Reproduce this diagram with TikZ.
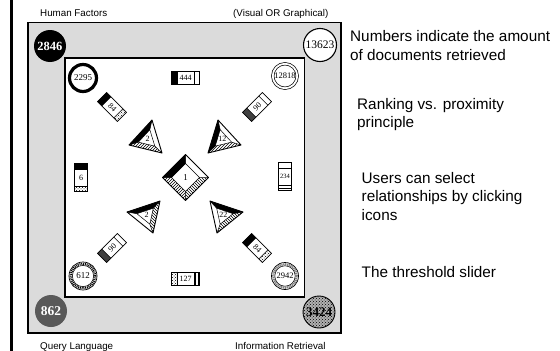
\documentclass[tikz,border=0pt]{standalone}
\usepackage{fontspec}
\setmainfont{Liberation Sans}
\newfontfamily\numfont{Liberation Serif}
\usetikzlibrary{patterns,calc}

% horizontal bar icon: x, y, angle, left cap style, right cap style, text, name, text angle
\newcommand{\baricon}[8]{%
 \begin{scope}[shift={(#1,#2)},rotate=#3]
   \fill[white] (-14,-6.5) rectangle (14,6.5);
   \path[#4] (-14,-6.5) rectangle (-8,6.5);
   \path[#5] (9,-6.5) rectangle (14,6.5);
   \draw[line width=0.7pt] (-14,-6.5) rectangle (14,6.5);
   \draw[line width=0.5pt] (-8,-6.5) -- (-8,6.5) (9,-6.5) -- (9,6.5);
   \node[iconnum,rotate=#8] (#7) at (0.5,0) {#6};
 \end{scope}}

% bevelled triangle: A, B, C, style AB, style BC, style CA, text, name
\newcommand{\bevtri}[8]{%
 \coordinate (#8A) at #1;
 \coordinate (#8B) at #2;
 \coordinate (#8C) at #3;
 \coordinate (#8G) at (barycentric cs:#8A=1,#8B=1,#8C=1);
 \coordinate (#8a) at ($(#8G)!0.5!(#8A)$);
 \coordinate (#8b) at ($(#8G)!0.5!(#8B)$);
 \coordinate (#8c) at ($(#8G)!0.5!(#8C)$);
 \fill[white] (#8A)--(#8B)--(#8C)--cycle;
 \path[#4] (#8A)--(#8B)--(#8b)--(#8a)--cycle;
 \path[#5] (#8B)--(#8C)--(#8c)--(#8b)--cycle;
 \path[#6] (#8C)--(#8A)--(#8a)--(#8c)--cycle;
 \draw[line width=0.9pt,line join=round] (#8A)--(#8B)--(#8C)--cycle;
 \draw[line width=0.5pt] (#8a)--(#8b)--(#8c)--cycle (#8A)--(#8a) (#8B)--(#8b) (#8C)--(#8c);
 \node[trinum] (#8) at (#8G) {#7};
}

\begin{document}
\begin{tikzpicture}[x=1pt,y=-1pt,
  lbl/.style={anchor=base west, inner sep=0pt, font=\fontsize{9.8}{11}\selectfont},
  note/.style={anchor=base west, inner sep=0pt, font=\fontsize{15.3}{18}\selectfont},
  bigc/.style={circle, inner sep=0pt, minimum size=32pt, font=\numfont\bfseries\fontsize{12.5}{13}\selectfont},
  smallc/.style={circle, inner sep=0pt, fill=white, font=\numfont\fontsize{9}{10}\selectfont},
  iconnum/.style={inner sep=0pt, font=\numfont\fontsize{8}{9}\selectfont},
  trinum/.style={inner sep=0pt, font=\numfont\fontsize{8}{9}\selectfont},
  hatch/.style={pattern=north east lines},
  hatchb/.style={pattern=north west lines},
  dotsf/.style={pattern=crosshatch dots},
  ladder/.style={pattern=horizontal lines},
  ladderv/.style={pattern=vertical lines},
]
\useasboundingbox (0,0) rectangle (560,351);

% left border line
\draw[line width=2.6pt] (11.3,0) -- (11.3,351);

% frame
\fill[black!14] (28,22.5) rectangle (341,333);
\draw[line width=1.2pt] (28,22.5) rectangle (341,333);
\fill[white] (65,58) rectangle (304.5,297);
\draw[line width=1.2pt] (65,58) rectangle (304.5,297);

% corner labels
\node[lbl] (hf) at (40,16.5) {Human Factors};
\node[lbl] (vg) at (233,16.5) {(Visual OR Graphical)};
\node[lbl] (ql) at (40,349) {Query Language};
\node[lbl] (ir) at (235,349) {Information Retrieval};

% outer corner circles
\node[bigc, fill=black, text=white] (c2846) at (50,46) {2846};
\node[bigc, draw, line width=1.1pt, fill=white, minimum size=33pt,
      font=\numfont\fontsize{11.5}{12}\selectfont] (c13623) at (320,45) {13623};
\node[bigc, fill=black!65, text=white, font=\numfont\bfseries\fontsize{13.5}{14}\selectfont] (c862) at (51,311) {862};
\node[bigc, draw, line width=0.9pt, preaction={fill=black!30}, pattern=crosshatch dots,
      font=\numfont\bfseries\fontsize{13}{14}\selectfont] (c3424) at (319,312) {3424};

% inner corner circles
\node[smallc, draw, line width=3.2pt, minimum size=27pt] (c2295) at (83,78) {2295};
\node[smallc, draw, double, double distance=1.8pt, line width=0.7pt, minimum size=24.5pt,
      font=\numfont\fontsize{8.5}{9}\selectfont] (c12818) at (285,76) {12818};
\node[smallc, draw, line width=0.7pt, minimum size=28pt] (c612) at (83,276) {612};
\draw[line width=2.4pt, dash pattern=on 0.9pt off 0.9pt] (c612.center) circle[radius=12.2pt];
\draw[line width=0.5pt] (c612.center) circle[radius=10.6pt];
\node[smallc, draw, line width=0.7pt, minimum size=27pt,
      font=\numfont\fontsize{8.5}{9}\selectfont] (c2942) at (285,276) {2942};
\draw[line width=2.2pt, black!50, dash pattern=on 1.2pt off 0.7pt] (c2942.center) circle[radius=11.8pt];
\draw[line width=0.5pt] (c2942.center) circle[radius=10.2pt];

% bar icons
\baricon{185}{78}{0}{fill=black}{}{444}{b444}{0}
\baricon{185}{279}{0}{dotsf}{ladderv}{127}{b127}{0}
\baricon{81}{177}{-90}{fill=black}{dotsf}{6}{b6}{0}
\baricon{285}{176}{-90}{}{ladder}{{\fontsize{6.5}{7}\selectfont 234}}{b234}{0}
\baricon{112}{107}{-45}{fill=black}{dotsf}{84}{b84a}{-45}
\baricon{257}{107}{45}{fill=black!75}{}{90}{b90a}{45}
\baricon{112}{248}{45}{fill=black!75}{}{90}{b90b}{45}
\baricon{257}{248}{-45}{fill=black}{dotsf}{84}{b84b}{-45}

% triangles
\bevtri{(152,120)}{(129,145)}{(162,153)}{fill=black}{hatch}{}{2}{tl}
\bevtri{(218,120)}{(241,145)}{(208,153)}{}{hatch}{fill=black}{12}{tr}
\bevtri{(127,212)}{(160,201)}{(153,233)}{fill=black}{hatchb}{}{2}{bl}
\bevtri{(210,201)}{(243,212)}{(217,233)}{fill=black}{hatchb}{}{22}{br}

% central diamond
\coordinate (dT) at (185.5,154.5);
\coordinate (dL) at (162.5,177.5);
\coordinate (dB) at (185.5,200.5);
\coordinate (dR) at (208.5,177.5);
\coordinate (dt) at (185.5,163.5);
\coordinate (dl) at (171.5,177.5);
\coordinate (db) at (185.5,191.5);
\coordinate (dr) at (199.5,177.5);
\fill[white] (dT)--(dR)--(dB)--(dL)--cycle;
\fill[black] (dL)--(dT)--(dt)--(dl)--cycle;
\path[hatch] (dB)--(dL)--(dl)--(db)--cycle;
\path[hatchb] (dR)--(dB)--(db)--(dr)--cycle;
\draw[line width=0.9pt,line join=round] (dT)--(dR)--(dB)--(dL)--cycle;
\draw[line width=0.5pt] (dt)--(dr)--(db)--(dl)--cycle (dT)--(dt) (dR)--(dr) (dB)--(db) (dL)--(dl);
\node[trinum, font=\numfont\fontsize{9}{10}\selectfont] (dia) at (185.5,177.5) {1};

% notes
\node[note] (n1a) at (350,41.7) {Numbers indicate the amount};
\node[note] (n1b) at (350,60) {of documents retrieved};
\node[note] (n2a) at (357,109) {Ranking vs. proximity};
\node[note] (n2b) at (357,127) {principle};
\node[note] (n3a) at (361.5,183.3) {Users can select};
\node[note] (n3b) at (361.5,201.7) {relationships by clicking};
\node[note] (n3c) at (361.5,220) {icons};
\node[note] (n4) at (361.5,277.3) {The threshold slider};
\end{tikzpicture}
\end{document}
